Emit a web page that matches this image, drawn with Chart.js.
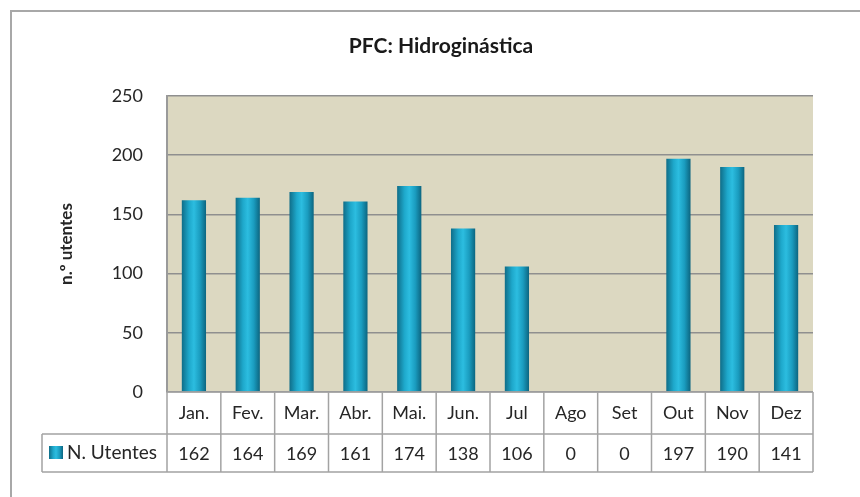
<!DOCTYPE html>
<html>
<head>
<meta charset="utf-8">
<script src="https://cdn.jsdelivr.net/npm/chart.js@4.4.0/dist/chart.umd.min.js"></script>
<style>
  html, body { margin: 0; padding: 0; background: #ffffff; }
  #wrap { width: 860px; height: 497px; position: relative; }
</style>
</head>
<body>
<div id="wrap"><canvas id="pfcChart"></canvas></div>
<script>
// data
var meses = ['Jan.', 'Fev.', 'Mar.', 'Abr.', 'Mai.', 'Jun.', 'Jul', 'Ago', 'Set', 'Out', 'Nov', 'Dez'];
var nUtentes = [162, 164, 169, 161, 174, 138, 106, 0, 0, 197, 190, 141];
var serieNome = 'N. Utentes';
var tituloGrafico = 'PFC: Hidroginástica';
var tituloEixoY = 'n.º utentes';

var fonte = 'Lato, "Open Sans", sans-serif';
var corTexto = '#262626';
var corLinha = '#a3a3a3';

// cylinder-ish gradient across a bar
function barGradient(ctx, x0, x1) {
  var g = ctx.createLinearGradient(x0, 0, x1, 0);
  g.addColorStop(0, '#0f6d88');
  g.addColorStop(0.3, '#1ea8cb');
  g.addColorStop(0.5, '#2cbde0');
  g.addColorStop(0.75, '#1a9cbf');
  g.addColorStop(1, '#0c6580');
  return g;
}

// beige plot background, outer frame and chart title
var fundoPlugin = {
  id: 'fundo',
  beforeDraw: function (chart) {
    var c = chart.ctx, a = chart.chartArea;
    c.save();
    c.fillStyle = '#dcd8c1';
    c.fillRect(a.left, a.top, a.right - a.left, a.bottom - a.top);
    c.strokeStyle = '#a8a8a8';
    c.lineWidth = 2;
    c.beginPath();
    c.moveTo(11, 497);
    c.lineTo(11, 11);
    c.lineTo(860, 11);
    c.stroke();
    c.fillStyle = '#1a1a1a';
    c.font = 'bold 21px ' + fonte;
    c.textAlign = 'center';
    c.textBaseline = 'middle';
    c.fillText(tituloGrafico, 441, 46);
    c.restore();
  }
};

// data table under the x axis
var tabelaPlugin = {
  id: 'tabela',
  afterDraw: function (chart) {
    var c = chart.ctx, x = chart.scales.x, a = chart.chartArea;
    var n = meses.length;
    var cw = (x.right - x.left) / n;
    var y0 = a.bottom, y1 = a.bottom + 42, y2 = a.bottom + 80;
    var legLeft = 42;
    c.save();
    c.strokeStyle = corLinha;
    c.lineWidth = 1.5;
    c.beginPath();
    c.moveTo(x.left, y0); c.lineTo(x.right, y0);
    c.moveTo(legLeft, y1); c.lineTo(x.right, y1);
    c.moveTo(legLeft, y2); c.lineTo(x.right, y2);
    c.moveTo(legLeft, y1); c.lineTo(legLeft, y2);
    for (var i = 0; i <= n; i++) {
      var xx = x.left + i * cw;
      c.moveTo(xx, y0); c.lineTo(xx, y2);
    }
    c.stroke();

    c.fillStyle = corTexto;
    c.font = '18px ' + fonte;
    c.textBaseline = 'middle';
    c.textAlign = 'center';
    var ym = (y1 + y2) / 2;
    for (var j = 0; j < n; j++) {
      c.fillText(String(nUtentes[j]), x.left + (j + 0.5) * cw, ym + 1);
    }
    // legend key
    c.fillStyle = barGradient(c, 49, 63);
    c.fillRect(49, ym - 7, 14, 13);
    c.fillStyle = corTexto;
    c.textAlign = 'left';
    c.font = '19px ' + fonte;
    c.fillText(serieNome, 67, ym);
    c.restore();
  }
};

var ctx = document.getElementById('pfcChart').getContext('2d');

new Chart(ctx, {
  type: 'bar',
  data: {
    labels: meses,
    datasets: [{
      label: serieNome,
      data: nUtentes,
      barPercentage: 0.45,
      categoryPercentage: 1,
      borderWidth: 0,
      backgroundColor: function (context) {
        var chart = context.chart;
        var x = chart.scales.x;
        if (!x || !chart.chartArea) return '#1ea8cb';
        var cx = x.getPixelForValue(context.dataIndex);
        var w = (x.width / meses.length) * 0.45;
        return barGradient(chart.ctx, cx - w / 2, cx + w / 2);
      }
    }]
  },
  options: {
    responsive: true,
    maintainAspectRatio: false,
    animation: false,
    layout: {
      padding: { left: 10, top: 96, right: 47, bottom: 25 }
    },
    plugins: {
      legend: { display: false },
      tooltip: { enabled: false },
      title: { display: false }
    },
    scales: {
      x: {
        grid: { display: false, drawTicks: false },
        border: { display: false },
        ticks: {
          color: corTexto,
          font: { family: fonte, size: 18 },
          padding: 10,
          maxRotation: 0,
          autoSkip: false
        },
        afterFit: function (scale) { scale.height = 80; }
      },
      y: {
        min: 0,
        max: 250,
        grid: { color: '#8f8f8f', lineWidth: 1.5, drawTicks: false },
        border: { display: true, color: '#9a9a9a', width: 2 },
        ticks: {
          stepSize: 50,
          color: corTexto,
          font: { family: fonte, size: 18 },
          padding: 24
        },
        title: {
          display: true,
          text: tituloEixoY,
          color: corTexto,
          font: { family: fonte, size: 17, weight: 'bold' },
          padding: { top: 46, bottom: 0 }
        },
        afterFit: function (scale) { scale.width = 157; }
      }
    }
  },
  plugins: [fundoPlugin, tabelaPlugin]
});
</script>
</body>
</html>
